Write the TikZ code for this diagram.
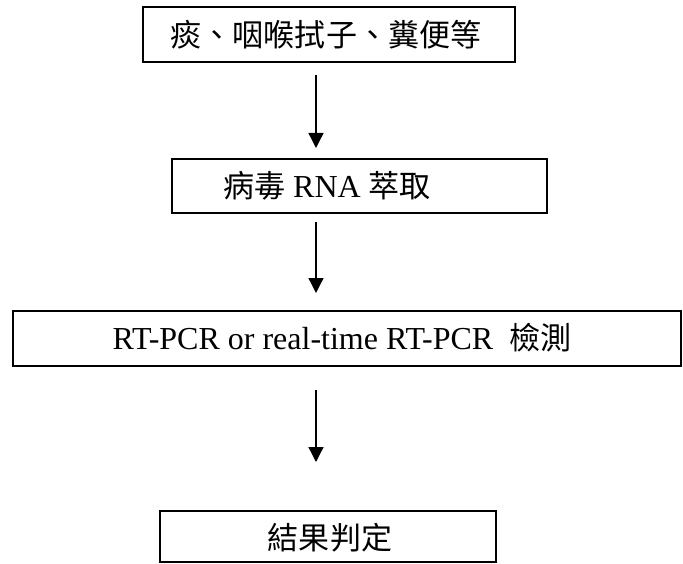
\documentclass[tikz,border=0pt]{standalone}
\usepackage{fontspec}
\setmainfont{Liberation Serif}
\newfontfamily\cjk{Noto Sans CJK TC}[Scale=0.97]
\usetikzlibrary{arrows.meta}

\begin{document}
\begin{tikzpicture}[x=1bp,y=-1bp,
  stagebox/.style={draw=black,line width=2.2bp,inner sep=0pt},
  steptext/.style={inner sep=0pt,font=\fontsize{32bp}{36bp}\selectfont},
  flowarrow/.style={line width=1.3bp,-{Triangle[width=15bp,length=15bp]}}]
  \useasboundingbox (0,0) rectangle (683,564);

  % boxes
  \draw[stagebox] (143,7) rectangle (515,62);
  \node[steptext] (s1) at (326,35) {\cjk 痰、咽喉拭子、糞便等};

  \draw[stagebox] (172,159) rectangle (547,213);
  \node[steptext] (s2) at (327,186) {{\cjk 病毒} RNA {\cjk 萃取}};

  \draw[stagebox] (13,311) rectangle (681,366);
  \node[steptext] (s3) at (342,338) {RT-PCR or real-time RT-PCR\enspace{\cjk 檢測}};

  \draw[stagebox] (160,511) rectangle (496,562);
  \node[steptext] (s4) at (330,538) {\cjk 結果判定};

  % arrow end points
  \coordinate (a1s) at (316,75);  \coordinate (a1e) at (316,148);
  \coordinate (a2s) at (316,222); \coordinate (a2e) at (316,293);
  \coordinate (a3s) at (316,390); \coordinate (a3e) at (316,462);

  \draw[flowarrow] (a1s) -- (a1e);
  \draw[flowarrow] (a2s) -- (a2e);
  \draw[flowarrow] (a3s) -- (a3e);
\end{tikzpicture}
\end{document}
